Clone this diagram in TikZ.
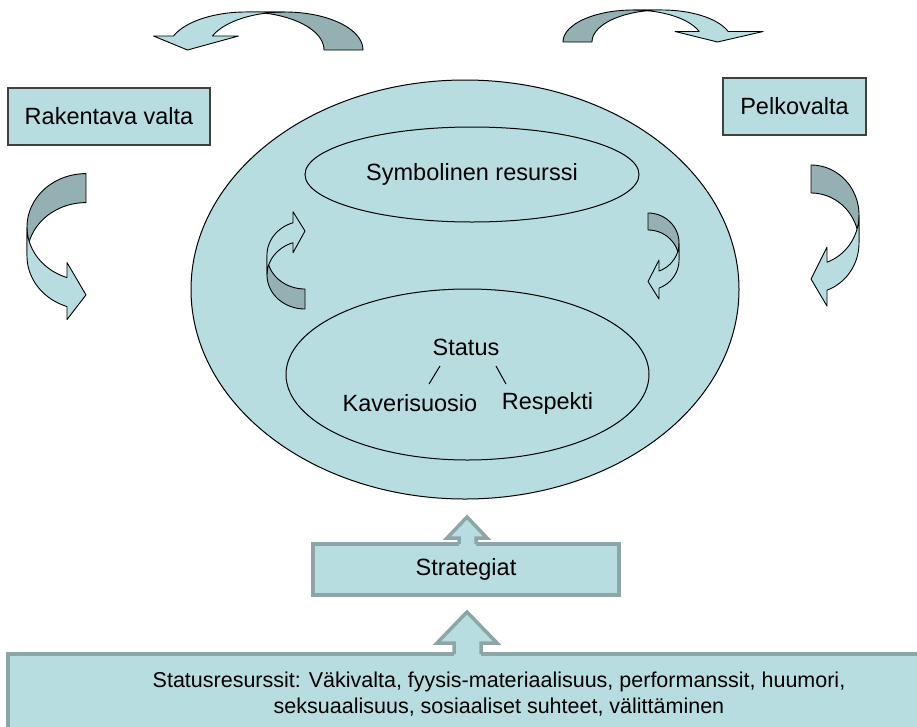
\documentclass[tikz,border=0pt]{standalone}
\usepackage{fontspec}
\setmainfont{Liberation Sans}
\usetikzlibrary{shapes.geometric}

\definecolor{paleaqua}{RGB}{183,221,225}
\definecolor{tailgray}{RGB}{148,176,178}
\definecolor{rimgray}{RGB}{140,166,168}

\tikzset{
  tailband/.style={fill=tailgray, draw=black, line width=0.9pt, line join=round, samples=30},
  headband/.style={fill=paleaqua, draw=black, line width=0.9pt, line join=round, samples=30},
  valtabox/.style={rectangle, draw=black!75, line width=1.5pt, fill=paleaqua, inner sep=0pt},
  ring/.style={ellipse, draw=black, line width=1pt, fill=paleaqua, inner sep=0pt},
  stratbox/.style={rectangle, draw=rimgray, line width=3.5pt, fill=paleaqua, inner sep=0pt},
  blockarrow/.style={draw=rimgray, line width=3.5pt, line join=miter},
  word/.style={inner sep=0pt}
}

% curved arrow: width, radius, band, cut, inner barb, outer barb
\newcommand{\bentarrow}[6]{%
  \pgfmathsetmacro{\bendang}{360-acos(-#4/#1)}%
  \pgfmathsetmacro{\bendy}{#2*sin(\bendang)}%
  \filldraw[tailband] plot[domain=90:180] ({#1*cos(\x)},{#2*sin(\x)})
    -- plot[domain=180:90] ({#1*cos(\x)},{#2*sin(\x)-#3}) -- cycle;
  \filldraw[headband] plot[domain=180:\bendang] ({#1*cos(\x)},{#2*sin(\x)})
    -- (-#4,\bendy+#5) -- (0,-#2-#3/2) -- (-#4,\bendy-#3-#6)
    -- (-#4,\bendy-#3) -- plot[domain=\bendang:180] ({#1*cos(\x)},{#2*sin(\x)-#3}) -- cycle;
}

\begin{document}
\begin{tikzpicture}[x=1pt, y=-1pt, every node/.style={font=\fontsize{23.5}{28}\selectfont}]
  \useasboundingbox (0,0) rectangle (917,726);

  \node[valtabox, minimum width=202, minimum height=57] (rakentava) at (109,116.5) {Rakentava valta};
  \node[valtabox, minimum width=143, minimum height=57] (pelko) at (794.5,106.5) {Pelkovalta};

  \node[ring, minimum width=548, minimum height=419] (kehä) at (465,289.5) {};
  \node[ring, minimum width=334, minimum height=95] (symb) at (472,174.5) {Symbolinen resurssi};
  \node[ring, minimum width=363, minimum height=171] (statusell) at (467.5,374.5) {};

  \node[word] (status) at (466,347) {Status};
  \node[word] (kaveri) at (410,403) {Kaverisuosio};
  \node[word] (respekti) at (547.5,403) {Respekti};
  \coordinate (kl1) at (440,366);
  \coordinate (kl2) at (429,384);
  \coordinate (rl1) at (496,366);
  \coordinate (rl2) at (506,384);
  \draw[line width=1pt] (kl1) -- (kl2);
  \draw[line width=1pt] (rl1) -- (rl2);

  % curved arrows
  \begin{scope}[shift={(86,227)}, yscale=-1]
    \bentarrow{59}{53.4}{29}{19}{15}{13}
  \end{scope}
  \begin{scope}[shift={(811,215)}, xscale=-1, yscale=-1]
    \bentarrow{48}{50}{28}{16}{15}{16}
  \end{scope}
  \begin{scope}[shift={(285,50)}, rotate=-90, yscale=-1]
    \bentarrow{38}{78}{39}{14}{26}{20}
  \end{scope}
  \begin{scope}[shift={(633,42)}, xscale=-1, rotate=-90, yscale=-1]
    \bentarrow{32}{70}{29}{10.5}{24}{35}
  \end{scope}
  \begin{scope}[shift={(305,275)}]
    \bentarrow{38}{34}{20}{12}{10}{11}
  \end{scope}
  \begin{scope}[shift={(648,243)}, xscale=-1, yscale=-1]
    \bentarrow{31}{30}{17}{11}{11}{11}
  \end{scope}

  \node[stratbox, minimum width=306, minimum height=51] (strat) at (466,569.5) {Strategiat};
  \node[stratbox, minimum width=982, minimum height=80, align=center,
        font=\fontsize{21.5}{26}\selectfont] (resurssit) at (499,694)
    {Statusresurssit: Väkivalta, fyysis-materiaalisuus, performanssit, huumori,\\
     seksuaalisuus, sosiaaliset suhteet, välittäminen};

  % block arrows
  \fill[paleaqua] (459,547) -- (459,538) -- (447,538) -- (467,517) -- (487,538) -- (476,538) -- (476,547) -- cycle;
  \draw[blockarrow] (459,544) -- (459,538) -- (447,538) -- (467,517) -- (487,538) -- (476,538) -- (476,544);
  \fill[paleaqua] (454,657) -- (454,643) -- (437,643) -- (467,612) -- (497,643) -- (481,643) -- (481,657) -- cycle;
  \draw[blockarrow] (454,654) -- (454,643) -- (437,643) -- (467,612) -- (497,643) -- (481,643) -- (481,654);
\end{tikzpicture}
\end{document}
